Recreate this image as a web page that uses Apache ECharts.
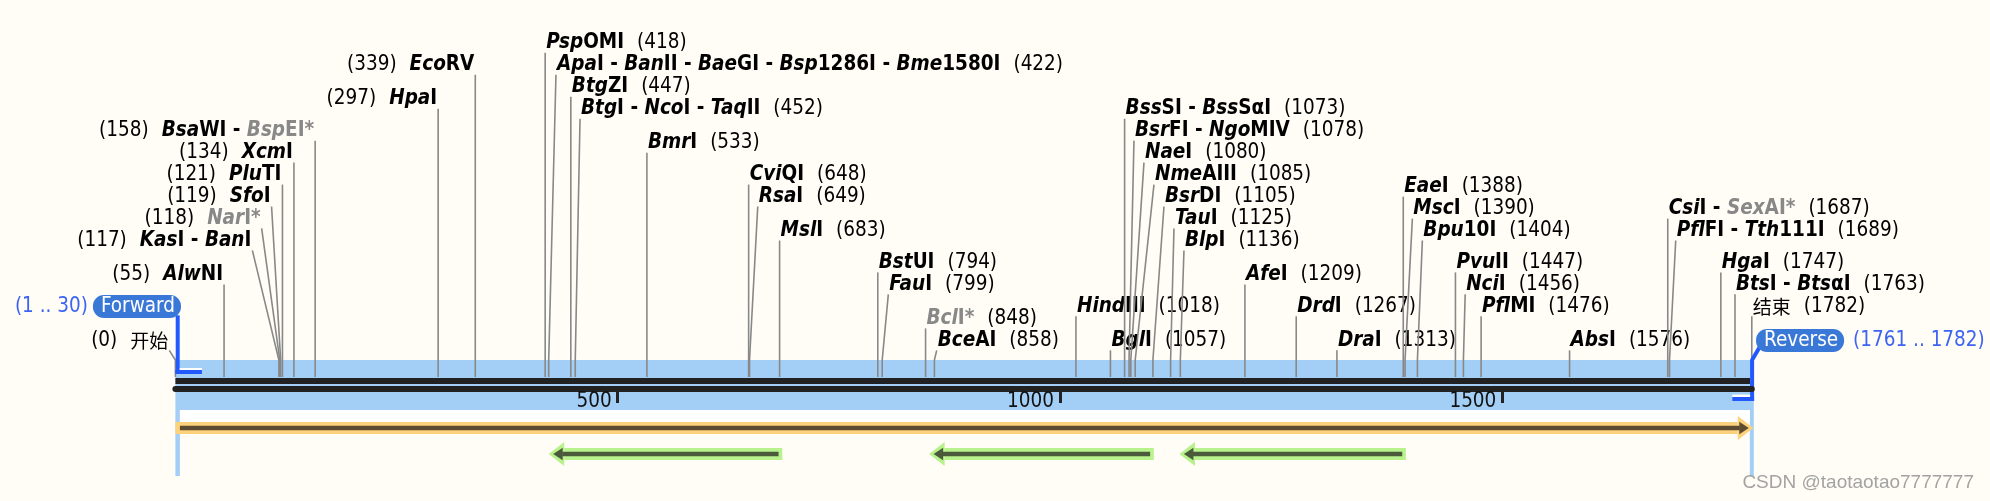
<!DOCTYPE html>
<html><head><meta charset="utf-8">
<script src="https://cdn.jsdelivr.net/npm/echarts@6/dist/echarts.min.js"></script>
<style>html,body{margin:0;padding:0;background:#fffdf6;}#c{width:1990px;height:501px;}</style>
</head><body><div id="c"></div>
<script>
// ---------------- data ----------------
const SEQ_LEN = 1782;
const axisTicks = [500, 1000, 1500];

// enzyme names: [..] = italic part, trailing * = non-unique (gray)
const enzymeNames = ['开始', '[Alw]NI', '[Kas]I - [Ban]I', '[Nar]I*', '[Sfo]I', '[Plu]TI', '[Xcm]I', '[Bsa]WI - [Bsp]EI*', '[Hpa]I', '[Eco]RV',
  '[Psp]OMI', '[Apa]I - [Ban]II - [Bae]GI - [Bsp]1286I - [Bme]1580I', '[Btg]ZI', '[Btg]I - [Nco]I - [Taq]II', '[Bmr]I', '[Cvi]QI', '[Rsa]I', '[Msl]I',
  '[Bst]UI', '[Fau]I', '[Bcl]I*', '[Bce]AI', '[Hind]III', '[Bgl]I', '[Bss]SI - [Bss]SαI', '[Bsr]FI - [Ngo]MIV', '[Nae]I', '[Nme]AIII', '[Bsr]DI',
  '[Tau]I', '[Blp]I', '[Afe]I', '[Drd]I', '[Dra]I', '[Eae]I', '[Msc]I', '[Bpu]10I', '[Pvu]II', '[Nci]I', '[Pfl]MI', '[Abs]I',
  '[Csi]I - [Sex]AI*', '[Pfl]FI - [Tth]111I', '[Hga]I', '[Bts]I - [Bts]αI', '结束'];
const enzymePos = [0, 55, 117, 118, 119, 121, 134, 158, 297, 339, 418, 422, 447, 452, 533, 648, 649, 683, 794, 799, 848, 858, 1018, 1057,
  1073, 1078, 1080, 1085, 1105, 1125, 1136, 1209, 1267, 1313, 1388, 1390, 1404, 1447, 1456, 1476, 1576, 1687, 1689, 1747, 1763, 1782];
// where each label's leader line starts (bp)
const enzymeLabelPos = [-6.9, 55, 87, 97.5, 108.7, 121, 134, 158, 297, 339, 418, 430.2, 447, 457.4, 533, 648, 658.3, 683, 794, 805.9, 848, 860.6,
  1018, 1057, 1073, 1083.6, 1094.9, 1106.2, 1117.5, 1128.8, 1140.1, 1209, 1267, 1313, 1388, 1398.3, 1409.6, 1447, 1458, 1476, 1576, 1687, 1696,
  1747, 1763, 1782];
// label row (lane) above the sequence
const enzymeLane = [1.45, 4.45, 6, 7, 8, 9, 10, 11, 12.45, 14, 15, 14, 13, 12, 10.45, 9, 8, 6.45, 5, 4, 2.45, 1.45, 3, 1.45, 12, 11, 10, 9, 8, 7, 6,
  4.45, 3, 1.45, 8.45, 7.45, 6.45, 5, 4, 3, 1.45, 7.45, 6.45, 5, 4, 3];
const enzymeSide = ['L','L','L','L','L','L','L','L','L','L','R','R','R','R','R','R','R','R','R','R','R','R','R','R','R','R','R','R','R','R','R',
  'R','R','R','R','R','R','R','R','R','R','R','R','R','R','R'];

const primerNames = ['Forward', 'Reverse'];
const primerStart = [1, 1761];
const primerEnd = [30, 1782];
const primerDir = [1, -1];
const primerLabelPos = [6.3, 1786.8];
const primerLane = [3, 1.45];

const featureStart = [0, 422, 852, 1135];
const featureEnd = [1782, 686, 1106, 1391];
const featureDir = [1, -1, -1, -1];
const featureTrack = [0, 1, 1, 1];
const featureType = ['misc', 'orf', 'orf', 'orf'];

// ---------------- styles ----------------
const FONT = '"DejaVu Sans Condensed", "DejaVu Sans", sans-serif';
const FS = 20.5;
const GAP = 13;
const TDY = 1.2;
const Y_MIN = -0.8106, Y_MAX = 16.903;
const FEATURE_COLORS = { misc: ['#fcd27d', '#5d4b2f'], orf: ['#b8f28c', '#4b5a3b'] };
const PRIMER_BLUE = '#2259ff';
const tok = (w, st, c) => ({ fontFamily: FONT, fontSize: FS, fontWeight: w, fontStyle: st, fill: c, lineHeight: 22 });
const RICH = {
  i: tok('bold', 'italic', '#000'), b: tok('bold', 'normal', '#000'),
  gi: tok('bold', 'italic', '#888'), gb: tok('bold', 'normal', '#888'),
  nl: Object.assign(tok('normal', 'normal', '#000'), { padding: [0, 0, 0, GAP] }),
  nr: Object.assign(tok('normal', 'normal', '#000'), { padding: [0, GAP, 0, 0] }),
  cjk: { fontFamily: '"Noto Sans CJK SC", sans-serif', fontSize: 19, fill: '#000', lineHeight: 22 },
  box: { fontFamily: FONT, fontSize: FS, fill: '#fff', backgroundColor: '#3a78d8', borderRadius: 11, padding: [1, 6, 1, 8], lineHeight: 21.5 },
  rngR: { fontFamily: FONT, fontSize: FS, fill: '#3d64f2', padding: [0, 5, 0, 0] },
  rngL: { fontFamily: FONT, fontSize: FS, fill: '#3d64f2', padding: [0, 0, 0, 9] }
};
function richName(name) {
  if (/[\u4e00-\u9fff]/.test(name)) return '{cjk|' + name + '}';
  return name.split(' - ').map(part => {
    const g = part.endsWith('*') ? 'g' : '';
    return part.replace(/\[([^\]]+)\]|([^\[]+)/g, (m, it, up) => it ? '{' + g + 'i|' + it + '}' : '{' + g + 'b|' + up + '}');
  }).join('{b| - }');
}

const chart = echarts.init(document.getElementById('c'));
function baseY(api) { return api.coord([0, Y_MIN])[1]; }

const option = {
  backgroundColor: '#fffdf6',
  animation: false,
  grid: { left: 175.4, right: 238.2, top: 0, bottom: 112 },
  xAxis: {
    type: 'value', min: 0, max: SEQ_LEN, z: 10,
    splitLine: { show: false },
    axisLine: { show: true, onZero: false, lineStyle: { color: '#222', width: 6 } },
    axisTick: { show: true, customValues: axisTicks, length: 14, lineStyle: { color: '#222', width: 3 } },
    axisLabel: { show: true, customValues: axisTicks, align: 'right', verticalAlign: 'middle', margin: 12.5, padding: [0, 6, 0, 0],
      fontFamily: FONT, fontSize: FS, color: '#111', formatter: v => String(v) }
  },
  yAxis: { type: 'value', min: Y_MIN, max: Y_MAX, show: false, splitLine: { show: false } },
  graphic: [{ type: 'text', right: 16, top: 473, z: 100,
    style: { text: 'CSDN @taotaotao7777777', font: '19px "Liberation Sans", Arial, sans-serif', fill: '#a3a3a3' } }],
  series: [
    { // sequence tracks
      type: 'custom', clip: false, z: 1, data: [[0, SEQ_LEN]],
      renderItem(params, api) {
        const x0 = api.coord([0, Y_MIN])[0], x1 = api.coord([SEQ_LEN, Y_MIN])[0], b = baseY(api);
        return { type: 'group', children: [
          { type: 'rect', shape: { x: x0, y: b - 29, width: x1 - x0 + 2, height: 50 }, style: { fill: '#a3cff6' } },
          { type: 'rect', shape: { x: x0, y: b + 21, width: 4.5, height: 66 }, style: { fill: '#a3cff6' } },
          { type: 'rect', shape: { x: x1 - 2, y: b + 21, width: 4, height: 66 }, style: { fill: '#a3cff6' } },
          { type: 'rect', shape: { x: x0 + 4.5, y: b + 21, width: x1 - x0 - 6.5, height: 12 }, style: { fill: '#ffffff' } },
          { type: 'rect', shape: { x: x0, y: b - 11, width: x1 - x0 - 1.8, height: 6 }, style: { fill: '#222' } }
        ] };
      }
    },
    { // features
      type: 'custom', clip: false, z: 2, data: featureStart.map((s, i) => [s, featureEnd[i], i]),
      renderItem(params, api) {
        const i = params.dataIndex;
        const s = api.coord([featureStart[i], Y_MIN])[0], e = api.coord([featureEnd[i], Y_MIN])[0];
        const cy = baseY(api) + 39 + 26 * featureTrack[i];
        const [light, dark] = FEATURE_COLORS[featureType[i]];
        const HL = 15.5, BH = 6, HH = 12, DH = 2.3, DHH = 6.3, DT = 4.5, DL = 9.5;
        const ch = [];
        if (featureDir[i] > 0) {
          const t = e + 1.5;
          ch.push({ type: 'rect', shape: { x: s, y: cy - BH, width: t - HL - s, height: 2 * BH }, style: { fill: light } });
          ch.push({ type: 'polygon', shape: { points: [[t, cy], [t - HL, cy - HH], [t - HL, cy + HH]] }, style: { fill: light } });
          ch.push({ type: 'rect', shape: { x: s + 4.5, y: cy - DH, width: t - DT - DL - s - 4, height: 2 * DH }, style: { fill: dark } });
          ch.push({ type: 'polygon', shape: { points: [[t - DT, cy], [t - DT - DL, cy - DHH], [t - DT - DL, cy + DHH]] }, style: { fill: dark } });
        } else {
          const t = s;
          ch.push({ type: 'rect', shape: { x: t + HL, y: cy - BH, width: e - t - HL, height: 2 * BH }, style: { fill: light } });
          ch.push({ type: 'polygon', shape: { points: [[t, cy], [t + HL, cy - HH], [t + HL, cy + HH]] }, style: { fill: light } });
          ch.push({ type: 'rect', shape: { x: t + DT + DL - 0.5, y: cy - DH, width: e - 3.7 - (t + DT + DL - 0.5), height: 2 * DH }, style: { fill: dark } });
          ch.push({ type: 'polygon', shape: { points: [[t + DT, cy], [t + DT + DL, cy - DHH], [t + DT + DL, cy + DHH]] }, style: { fill: dark } });
        }
        return { type: 'group', children: ch };
      }
    },
    { // primers
      type: 'custom', clip: false, z: 4, data: primerStart.map((s, i) => [s, primerEnd[i], i]),
      renderItem(params, api) {
        const i = params.dataIndex, b = baseY(api);
        const xs = api.coord([primerStart[i] - 1, Y_MIN])[0], xe = api.coord([primerEnd[i], Y_MIN])[0];
        const a = api.coord([primerLabelPos[i], primerLane[i]]);
        const rng = '(' + primerStart[i] + ' .. ' + primerEnd[i] + ')';
        const ch = [];
        if (primerDir[i] > 0) {
          const vx = xs + 2.3;
          ch.push({ type: 'polyline', shape: { points: [[vx, a[1] + 10], [vx, b - 15]] }, style: { stroke: PRIMER_BLUE, lineWidth: 4, fill: null } });
          ch.push({ type: 'line', shape: { x1: xs, y1: b - 17, x2: xe, y2: b - 17 }, style: { stroke: PRIMER_BLUE, lineWidth: 4 } });
          ch.push({ type: 'line', shape: { x1: vx + 2, y1: b - 20, x2: xe, y2: b - 20 }, style: { stroke: '#ffffff', lineWidth: 2 } });
          ch.push({ type: 'text', style: { x: a[0], y: a[1] + TDY, align: 'right', verticalAlign: 'middle', text: '{rngR|' + rng + '}{box|' + primerNames[i] + '}', rich: RICH } });
        } else {
          const vx = xe + 0.3;
          ch.push({ type: 'polyline', shape: { points: [[a[0] + 3.5, a[1] + 8], [vx, b - 29], [vx, b + 12]] }, style: { stroke: PRIMER_BLUE, lineWidth: 4, fill: null, lineJoin: 'miter' } });
          ch.push({ type: 'line', shape: { x1: xs, y1: b + 10, x2: vx + 2, y2: b + 10 }, style: { stroke: PRIMER_BLUE, lineWidth: 4 } });
          ch.push({ type: 'line', shape: { x1: xs, y1: b + 6.8, x2: vx - 2, y2: b + 6.8 }, style: { stroke: '#ffffff', lineWidth: 2.4 } });
          ch.push({ type: 'text', style: { x: a[0], y: a[1] + TDY, align: 'left', verticalAlign: 'middle', text: '{box|' + primerNames[i] + '}{rngL|' + rng + '}', rich: RICH } });
        }
        return { type: 'group', children: ch };
      }
    },
    { // enzyme sites
      type: 'custom', clip: false, z: 3, data: enzymePos.map((p, i) => [p, enzymeLane[i], i]),
      renderItem(params, api) {
        const i = params.dataIndex, b = baseY(api);
        const p = api.coord([enzymePos[i], Y_MIN])[0];
        const a = api.coord([enzymeLabelPos[i], enzymeLane[i]]);
        const left = enzymeSide[i] === 'L';
        const nm = richName(enzymeNames[i]);
        const num = '(' + enzymePos[i] + ')';
        const txt = left ? '{nr|' + num + '}' + nm : nm + '{nl|' + num + '}';
        return { type: 'group', children: [
          { type: 'polyline', shape: { points: [[a[0], a[1] + 11], [p, b - 29], [p, b - 12]] }, style: { stroke: '#888', lineWidth: 1.6, fill: null } },
          { type: 'text', style: { x: left ? a[0] - 1 : a[0] + 1, y: a[1] + TDY, align: left ? 'right' : 'left', verticalAlign: 'middle', text: txt, rich: RICH } }
        ] };
      }
    }
  ]
};
chart.setOption(option);
</script></body></html>
